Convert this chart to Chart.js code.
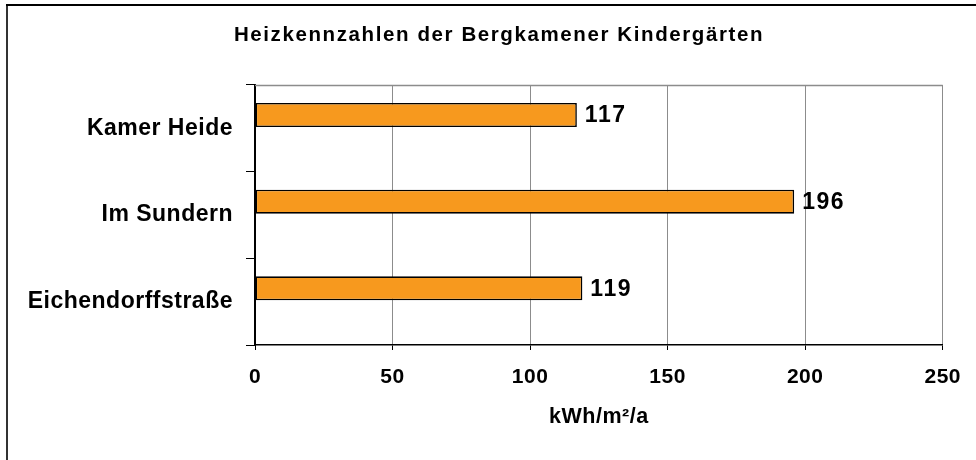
<!DOCTYPE html>
<html>
<head>
<meta charset="utf-8">
<script src="https://cdn.jsdelivr.net/npm/chart.js@4/dist/chart.umd.min.js"></script>
<style>
  html, body { margin: 0; padding: 0; background: #fff; }
  canvas { display: block; }
</style>
</head>
<body>
<canvas id="c" width="976" height="460"></canvas>
<script>
const TITLE = 'Heizkennzahlen der Bergkamener Kindergärten';
const AXIS_TITLE = 'kWh/m²/a';
const categories = ['Kamer Heide', 'Im Sundern', 'Eichendorffstraße'];
const values = [117, 196, 119];
const spacerValues = [null, null, null];
const xMin = 0, xMax = 250, xStep = 50;

const FONT = '"Liberation Sans", Arial, Helvetica, sans-serif';
const SPACING = '0.5px';

const styling = {
  id: 'styling',
  beforeUpdate(chart) { chart.ctx.letterSpacing = SPACING; },
  beforeDraw(chart) {
    const ctx = chart.ctx;
    ctx.letterSpacing = SPACING;
    ctx.save();
    ctx.fillStyle = '#fff';
    ctx.fillRect(0, 0, chart.width, chart.height);
    ctx.restore();
  },
  beforeDatasetsDraw(chart) {
    const ctx = chart.ctx, a = chart.chartArea;
    ctx.save();
    ctx.strokeStyle = '#8c8c8c';
    ctx.lineWidth = 1.5;
    ctx.beginPath();
    ctx.moveTo(a.left, a.top + 0.5);
    ctx.lineTo(a.right, a.top + 0.5);
    ctx.stroke();
    ctx.restore();
  },
  afterDatasetsDraw(chart) {
    const ctx = chart.ctx;
    const meta = chart.getDatasetMeta(0);
    ctx.save();
    ctx.font = 'bold 23px ' + FONT;
    ctx.letterSpacing = '1.5px';
    ctx.fillStyle = '#000';
    ctx.textAlign = 'left';
    ctx.textBaseline = 'middle';
    meta.data.forEach((bar, i) => {
      ctx.fillText(String(values[i]), bar.x + 8, bar.y + 1);
    });
    ctx.restore();
  },
  afterDraw(chart) {
    const ctx = chart.ctx;
    ctx.save();
    ctx.font = 'bold 20.5px ' + FONT;
    ctx.letterSpacing = '1.6px';
    ctx.fillStyle = '#000';
    ctx.textAlign = 'center';
    ctx.textBaseline = 'alphabetic';
    ctx.fillText(TITLE, 499, 41);
    ctx.fillStyle = '#333';
    ctx.fillRect(6, 4, 2, chart.height - 4);
    ctx.fillStyle = '#000';
    ctx.fillRect(6, 4, chart.width - 6, 2);
    ctx.restore();
  }
};

new Chart(document.getElementById('c'), {
  type: 'bar',
  data: {
    labels: categories,
    datasets: [
      {
        data: values,
        backgroundColor: '#F7991E',
        borderColor: '#000',
        borderWidth: 1.6,
        borderSkipped: false,
        categoryPercentage: 0.616,
        barPercentage: 0.9
      },
      {
        data: spacerValues,
        backgroundColor: 'rgba(0,0,0,0)',
        categoryPercentage: 0.616,
        barPercentage: 0.9
      }
    ]
  },
  options: {
    indexAxis: 'y',
    responsive: false,
    animation: false,
    devicePixelRatio: 1,
    layout: { padding: { top: 85, right: 30, bottom: 0, left: 0 } },
    plugins: {
      legend: { display: false },
      title: { display: false },
      tooltip: { enabled: false }
    },
    scales: {
      x: {
        type: 'linear',
        position: 'bottom',
        min: xMin,
        max: xMax,
        ticks: {
          stepSize: xStep,
          color: '#000',
          padding: 15,
          font: { family: FONT, size: 21, weight: 'bold' }
        },
        grid: {
          color: '#8c8c8c',
          lineWidth: 1,
          drawTicks: true,
          tickLength: 5,
          tickColor: '#000'
        },
        border: { display: true, color: '#000', width: 1.5 },
        title: {
          display: true,
          text: AXIS_TITLE,
          color: '#000',
          font: { family: FONT, size: 21.5, weight: 'bold' },
          padding: { top: 0, bottom: 30 }
        },
        afterFit(scale) { scale.height = 115; }
      },
      y: {
        type: 'category',
        position: 'left',
        offset: true,
        ticks: {
          color: '#000',
          padding: 13,
          font: { family: FONT, size: 23, weight: 'bold' }
        },
        grid: {
          offset: true,
          drawOnChartArea: false,
          drawTicks: true,
          tickLength: 9,
          tickColor: '#000',
          color: '#000'
        },
        border: { display: true, color: '#000', width: 2 },
        afterFit(scale) { scale.width = 255; }
      }
    }
  },
  plugins: [styling]
});
</script>
</body>
</html>
